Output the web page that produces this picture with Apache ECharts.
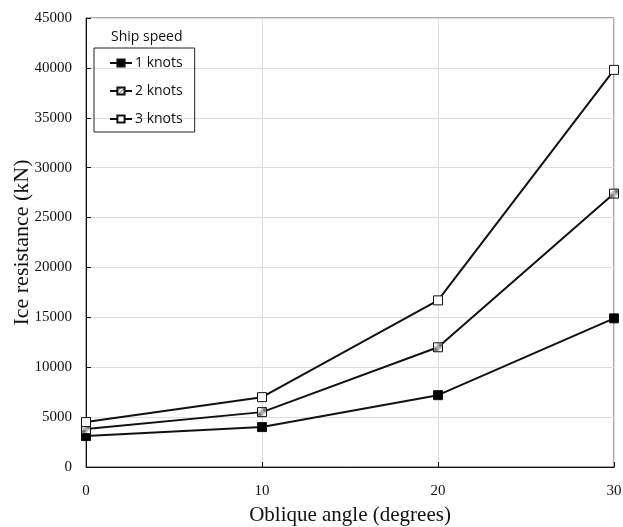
<!DOCTYPE html>
<html lang="en">
<head>
  <meta charset="UTF-8">
  <title>Ice resistance vs oblique angle</title>
  <script src="https://cdn.jsdelivr.net/npm/echarts@6/dist/echarts.min.js"></script>
  <style>
    html, body { margin: 0; padding: 0; background: #fff; }
    #chart { width: 623px; height: 527px; }
  </style>
</head>
<body>
  <div id="chart"></div>
  <script>
    // data
    const angles = [0, 10, 20, 30];
    const knots1 = [3100, 4000, 7200, 14900];
    const knots2 = [3800, 5500, 12000, 27400];
    const knots3 = [4500, 7000, 16700, 39800];
    const seriesNames = ['1 knots', '2 knots', '3 knots'];

    // hatched fill for the 2 knots markers
    function hatch() {
      const c = document.createElement('canvas');
      c.width = 4; c.height = 4;
      const ctx = c.getContext('2d');
      ctx.fillStyle = '#fff';
      ctx.fillRect(0, 0, 4, 4);
      ctx.strokeStyle = '#555';
      ctx.lineWidth = 1;
      ctx.beginPath();
      ctx.moveTo(0, 4); ctx.lineTo(4, 0);
      ctx.moveTo(-1, 1); ctx.lineTo(1, -1);
      ctx.moveTo(3, 5); ctx.lineTo(5, 3);
      ctx.stroke();
      return { image: c, repeat: 'repeat' };
    }

    const chart = echarts.init(document.getElementById('chart'));

    function pairs(vals) {
      return angles.map((a, i) => [a, vals[i]]);
    }

    function makeSeries(name, vals, fill) {
      return {
        name: name,
        type: 'line',
        data: pairs(vals),
        symbol: 'rect',
        symbolSize: 9,
        lineStyle: { color: '#111', width: 2 },
        itemStyle: { color: fill, borderColor: '#111', borderWidth: 1 },
        emphasis: { disabled: true }
      };
    }

    const option = {
      animation: false,
      title: {
        text: 'Ship speed',
        left: 106,
        top: 25,
        textStyle: { fontFamily: 'Open Sans', fontSize: 14, fontWeight: 'normal', color: '#111' }
      },
      legend: {
        data: seriesNames,
        orient: 'vertical',
        left: 94,
        top: 48,
        padding: [6, 12, 4, 15],
        itemGap: 10,
        itemWidth: 22,
        itemHeight: 9,
        borderColor: '#222',
        borderWidth: 1,
        textStyle: { fontFamily: 'Open Sans', fontSize: 14, lineHeight: 18, color: '#111', padding: [0, 0, 0, -2] }
      },
      grid: {
        left: 86,
        right: 9,
        top: 18,
        bottom: 60,
        outerBoundsMode: 'none',
        show: true,
        borderColor: '#555',
        borderWidth: 1
      },
      xAxis: {
        type: 'value',
        min: 0,
        max: 30,
        interval: 10,
        name: 'Oblique angle (degrees)',
        nameLocation: 'middle',
        nameGap: 38,
        nameMoveOverlap: false,
        nameTextStyle: { fontFamily: 'Liberation Serif', fontSize: 21, color: '#111' },
        axisLine: { lineStyle: { color: '#111', width: 1 } },
        axisTick: { inside: true, length: 5, lineStyle: { color: '#111' } },
        axisLabel: { fontFamily: 'Liberation Serif', fontSize: 15, color: '#111', margin: 17 },
        splitLine: { show: true, lineStyle: { color: '#ddd' } }
      },
      yAxis: {
        type: 'value',
        min: 0,
        max: 45000,
        interval: 5000,
        name: 'Ice resistance (kN)',
        nameLocation: 'middle',
        nameGap: 53,
        nameMoveOverlap: false,
        nameTextStyle: { fontFamily: 'Liberation Serif', fontSize: 22, color: '#111' },
        axisLine: { show: true, lineStyle: { color: '#111', width: 1 } },
        axisTick: { show: true, inside: true, length: 5, lineStyle: { color: '#111' } },
        axisLabel: {
          fontFamily: 'Liberation Serif', fontSize: 15, color: '#111', margin: 14,
          formatter: v => String(v)
        },
        splitLine: { show: true, lineStyle: { color: '#ddd' } }
      },
      series: [
        makeSeries(seriesNames[0], knots1, '#000'),
        makeSeries(seriesNames[1], knots2, hatch()),
        makeSeries(seriesNames[2], knots3, '#fff')
      ]
    };

    chart.setOption(option);
  </script>
</body>
</html>
